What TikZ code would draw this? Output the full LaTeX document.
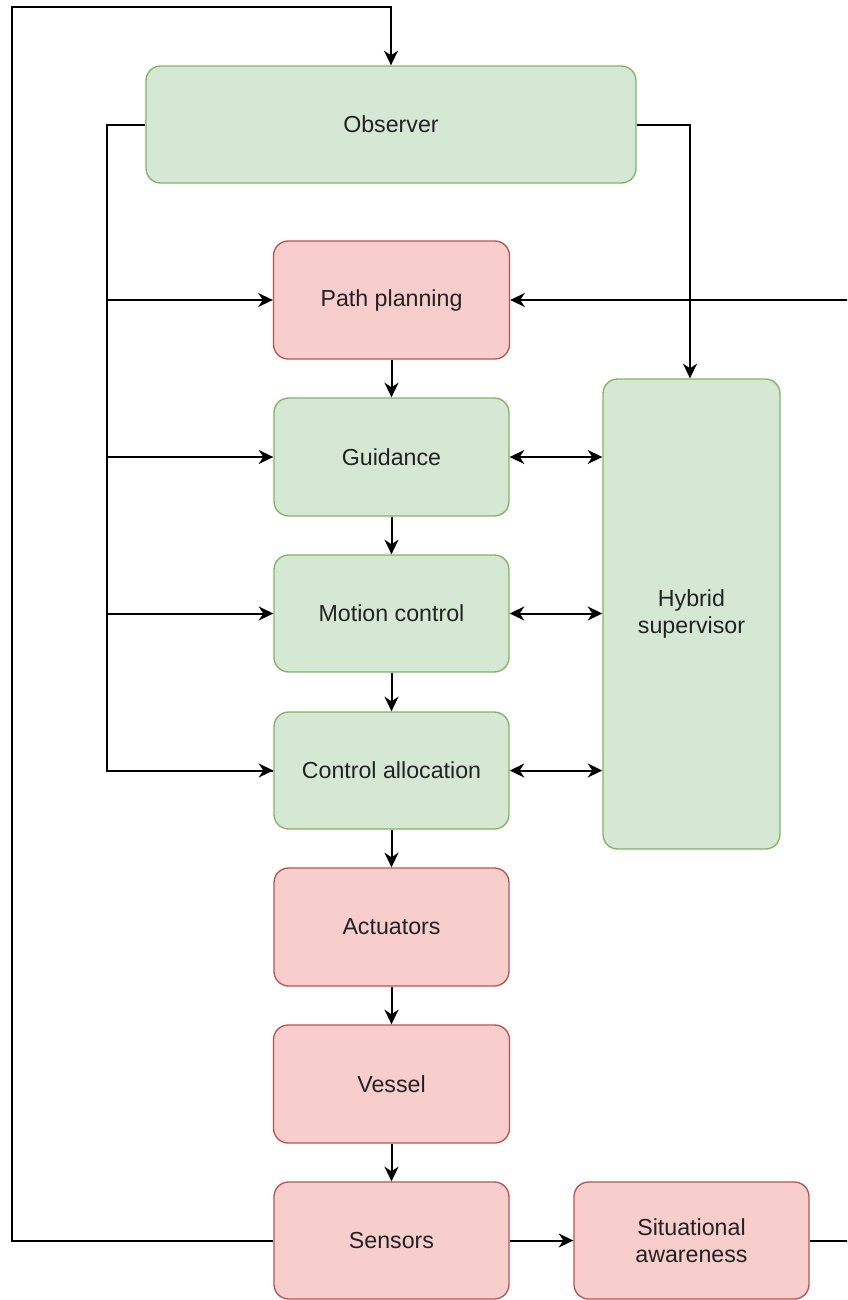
\documentclass[tikz,border=0pt]{standalone}
\usepackage{fontspec}
\setmainfont{Liberation Sans}
\usetikzlibrary{arrows.meta}
\definecolor{gfill}{HTML}{D5E8D4}
\definecolor{gline}{HTML}{82B366}
\definecolor{rfill}{HTML}{F8CECC}
\definecolor{rline}{HTML}{B85450}
\definecolor{txt}{HTML}{222222}
\tikzset{
  box/.style={rounded corners=11pt, line width=1pt, text=txt, align=center,
    font=\fontsize{17.4}{20}\selectfont, inner sep=0pt},
  gbox/.style={box, fill=gfill, draw=gline},
  rbox/.style={box, fill=rfill, draw=rline},
  conn/.style={line width=1.5pt, -{Stealth[length=11pt,width=10.5pt,inset=3.5pt]}},
  bconn/.style={line width=1.5pt, {Stealth[length=11pt,width=10.5pt,inset=3.5pt]}-{Stealth[length=11pt,width=10.5pt,inset=3.5pt]}},
  plain/.style={line width=1.5pt}
}
\begin{document}
\begin{tikzpicture}[x=0.75pt,y=-0.75pt]
\useasboundingbox (0,0) rectangle (847,1300);
\clip (0,0) rectangle (847,1300);
\node[gbox, minimum width=490*0.75pt, minimum height=117*0.75pt] (obs) at (391,124.5) {Observer};
\node[rbox, minimum width=236*0.75pt, minimum height=118*0.75pt] (pp) at (391.5,300) {Path planning};
\node[gbox, minimum width=235*0.75pt, minimum height=118*0.75pt] (gd) at (391.5,457) {Guidance};
\node[gbox, minimum width=235*0.75pt, minimum height=117*0.75pt] (mc) at (391.5,613.5) {Motion control};
\node[gbox, minimum width=235*0.75pt, minimum height=117*0.75pt] (ca) at (391.5,770.5) {Control allocation};
\node[rbox, minimum width=235*0.75pt, minimum height=118*0.75pt] (act) at (391.5,927) {Actuators};
\node[rbox, minimum width=236*0.75pt, minimum height=118*0.75pt] (ves) at (391.5,1084) {Vessel};
\node[rbox, minimum width=235*0.75pt, minimum height=117*0.75pt] (sen) at (391.5,1240.5) {Sensors};
\node[rbox, minimum width=235*0.75pt, minimum height=117*0.75pt] (sa) at (691.5,1240.5) {Situational\\awareness};
\node[gbox, minimum width=177*0.75pt, minimum height=470*0.75pt] (hs) at (691.5,614) {Hybrid\\supervisor};

\coordinate (fbL) at (12,1240.5);
\coordinate (fbT) at (12,7);
\coordinate (fbR) at (391,7);
\draw[conn] (sen.west) -- (fbL) -- (fbT) -- (fbR) -- (obs.north);

\coordinate (busT) at (107,124.5);
\draw[plain] (obs.west) -- (busT) |- (ca.west);
\draw[conn] (busT) |- (pp.west);
\draw[conn] (busT) |- (gd.west);
\draw[conn] (busT) |- (mc.west);
\draw[conn] (busT) |- (ca.west);

\coordinate (obsR) at (690,124.5);
\draw[conn] (obs.east) -- (obsR) -- (obsR |- hs.north);

\draw[conn] (pp) -- (gd);
\draw[conn] (gd) -- (mc);
\draw[conn] (mc) -- (ca);
\draw[conn] (ca) -- (act);
\draw[conn] (act) -- (ves);
\draw[conn] (ves) -- (sen);

\draw[bconn] (gd.east) -- (gd.east -| hs.west);
\draw[bconn] (mc.east) -- (mc.east -| hs.west);
\draw[bconn] (ca.east) -- (ca.east -| hs.west);

\draw[conn] (sen) -- (sa);
\coordinate (saR) at (870,1240.5);
\coordinate (ppR) at (870,300);
\draw[conn] (sa.east) -- (saR) -- (ppR) -- (pp.east);
\end{tikzpicture}
\end{document}
